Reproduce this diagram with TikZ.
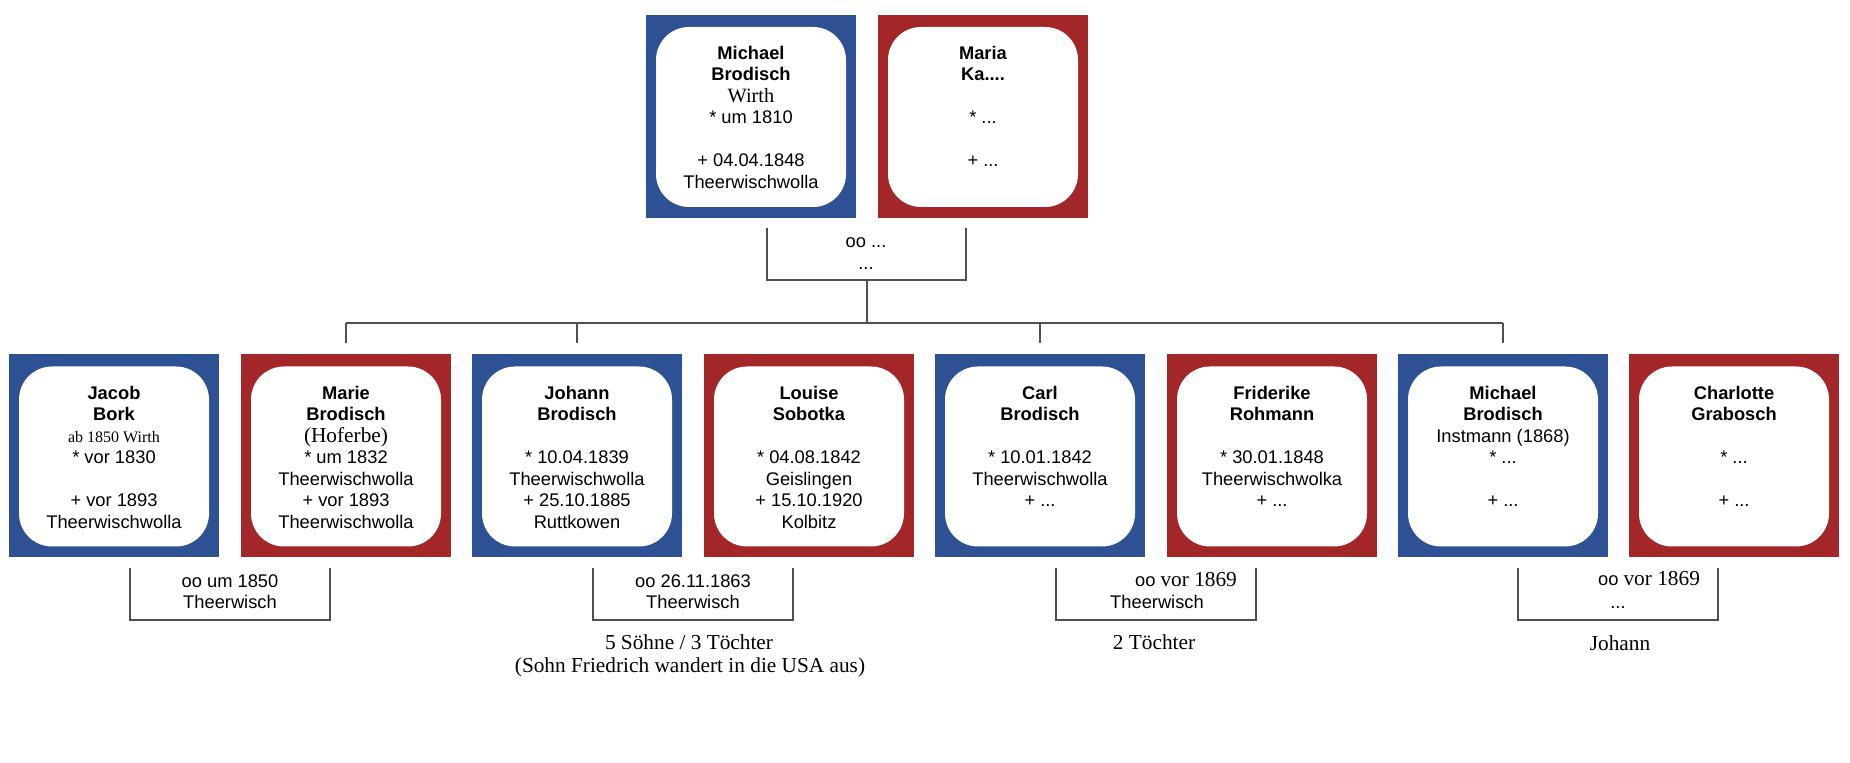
\documentclass[tikz,border=0pt]{standalone}
\usepackage{fontspec}
\setmainfont{Liberation Sans}
\newfontfamily\tms{Liberation Serif}
\definecolor{mblue}{HTML}{2D5193}
\definecolor{fred}{HTML}{A32628}
\definecolor{linegray}{HTML}{505050}
\begin{document}
\begin{tikzpicture}[x=0.5pt,y=-0.5pt,
  outerbox/.style={draw=none, minimum width=105pt, minimum height=101.5pt, inner sep=0pt},
  malebox/.style={outerbox, fill=mblue},
  femalebox/.style={outerbox, fill=fred},
  innerbox/.style={fill=white, draw=none, rounded corners=16.5pt, minimum width=95pt, minimum height=90pt, inner sep=0pt},
  ptext/.style={anchor=north, align=center, inner sep=0pt, font=\fontsize{9.15}{10.75}\selectfont},
  conn/.style={draw=linegray, line width=0.75pt},
  mtext/.style={anchor=base, inner sep=0pt, font=\fontsize{9.15}{10.75}\selectfont},
  stext/.style={anchor=base, inner sep=0pt, font=\tms\fontsize{10.65}{11.5}\selectfont}
]
\useasboundingbox (0,0) rectangle (1850,763);

% ---------- top couple ----------
\node[malebox] (t1) at (751,116.5) {};
\node[innerbox] (t1i) at (751,117) {};
\node[ptext] (t1t) at (751,44) {\strut\textbf{Michael}\\\textbf{Brodisch}\\{\tms\fontsize{10.15}{10.75}\selectfont Wirth}\hspace*{6pt}\\* um 1810\\\mbox{}\\+ 04.04.1848\\Theerwischwolla};
\node[femalebox] (t2) at (983,116.5) {};
\node[innerbox] (t2i) at (983,117) {};
\node[ptext] (t2t) at (983,44) {\strut\textbf{Maria}\\\textbf{Ka....}\\\mbox{}\\* ...\\\mbox{}\\+ ...};

% ---------- children row ----------
\node[malebox] (c1) at (114,456) {};
\node[innerbox] (c1i) at (114,456.5) {};
\node[ptext] (c1t) at (114,384) {\strut\textbf{Jacob}\\\textbf{Bork}\\{\tms\fontsize{8}{10.75}\selectfont ab 1850 Wirth}\\* vor 1830\\\mbox{}\\+ vor 1893\\Theerwischwolla};

\node[femalebox] (c2) at (346,456) {};
\node[innerbox] (c2i) at (346,456.5) {};
\node[ptext] (c2t) at (346,384) {\strut\textbf{Marie}\\\textbf{Brodisch}\\{\tms\fontsize{10.65}{10.75}\selectfont (Hoferbe)}\\* um 1832\\Theerwischwolla\\+ vor 1893\\Theerwischwolla};

\node[malebox] (c3) at (577,456) {};
\node[innerbox] (c3i) at (577,456.5) {};
\node[ptext] (c3t) at (577,384) {\strut\textbf{Johann}\\\textbf{Brodisch}\\\mbox{}\\* 10.04.1839\\Theerwischwolla\\+ 25.10.1885\\Ruttkowen};

\node[femalebox] (c4) at (809,456) {};
\node[innerbox] (c4i) at (809,456.5) {};
\node[ptext] (c4t) at (809,384) {\strut\textbf{Louise}\\\textbf{Sobotka}\\\mbox{}\\* 04.08.1842\\Geislingen\\+ 15.10.1920\\Kolbitz};

\node[malebox] (c5) at (1040,456) {};
\node[innerbox] (c5i) at (1040,456.5) {};
\node[ptext] (c5t) at (1040,384) {\strut\textbf{Carl}\\\textbf{Brodisch}\\\mbox{}\\* 10.01.1842\\Theerwischwolla\\+ ...};

\node[femalebox] (c6) at (1272,456) {};
\node[innerbox] (c6i) at (1272,456.5) {};
\node[ptext] (c6t) at (1272,384) {\strut\textbf{Friderike}\\\textbf{Rohmann}\\\mbox{}\\* 30.01.1848\\Theerwischwolka\\+ ...};

\node[malebox] (c7) at (1503,456) {};
\node[innerbox] (c7i) at (1503,456.5) {};
\node[ptext] (c7t) at (1503,384) {\strut\textbf{Michael}\\\textbf{Brodisch}\\Instmann (1868)\\* ...\\\mbox{}\\+ ...};

\node[femalebox] (c8) at (1734,456) {};
\node[innerbox] (c8i) at (1734,456.5) {};
\node[ptext] (c8t) at (1734,384) {\strut\textbf{Charlotte}\\\textbf{Grabosch}\\\mbox{}\\* ...\\\mbox{}\\+ ...};

% ---------- top marriage bracket ----------
\coordinate (m0a) at (767,228);
\coordinate (m0b) at (767,280);
\coordinate (m0c) at (966,280);
\coordinate (m0d) at (966,228);
\coordinate (m0s) at (867,280);
\coordinate (bar) at (867,323);
\draw[conn] (m0a) -- (m0b) -- (m0c) -- (m0d);
\draw[conn] (m0s) -- (bar);
\node[mtext] (m0t1) at (866,248) {oo ...};
\node[mtext] (m0t2) at (866,270) {...};

% ---------- sibling bar ----------
\coordinate (bar1) at (346,323);
\coordinate (bar2) at (577,323);
\coordinate (bar3) at (1040,323);
\coordinate (bar4) at (1503,323);
\coordinate (d1) at (346,343);
\coordinate (d2) at (577,343);
\coordinate (d3) at (1040,343);
\coordinate (d4) at (1503,343);
\draw[conn] (bar1) -- (bar4);
\draw[conn] (bar1) -- (d1);
\draw[conn] (bar2) -- (d2);
\draw[conn] (bar3) -- (d3);
\draw[conn] (bar4) -- (d4);

% ---------- children marriage brackets ----------
\coordinate (m1a) at (130,568); \coordinate (m1b) at (130,620);
\coordinate (m1c) at (330,620); \coordinate (m1d) at (330,568);
\draw[conn] (m1a) -- (m1b) -- (m1c) -- (m1d);
\node[mtext] (m1t1) at (230,588) {oo um 1850};
\node[mtext] (m1t2) at (230,609) {Theerwisch};

\coordinate (m2a) at (593,568); \coordinate (m2b) at (593,620);
\coordinate (m2c) at (793,620); \coordinate (m2d) at (793,568);
\draw[conn] (m2a) -- (m2b) -- (m2c) -- (m2d);
\node[mtext] (m2t1) at (693,588) {oo 26.11.1863};
\node[mtext] (m2t2) at (693,609) {Theerwisch};
\node[stext] (m2k1) at (689,649) {5 Söhne / 3 Töchter};
\node[stext] (m2k2) at (690,672) {(Sohn Friedrich wandert in die USA aus)};

\coordinate (m3a) at (1056,568); \coordinate (m3b) at (1056,620);
\coordinate (m3c) at (1256,620); \coordinate (m3d) at (1256,568);
\draw[conn] (m3a) -- (m3b) -- (m3c) -- (m3d);
\node[mtext] (m3t1) at (1186,587) {oo {\tms\fontsize{10.65}{11.5}\selectfont vor 1869}};
\node[mtext] (m3t2) at (1157,609) {Theerwisch};
\node[stext] (m3k1) at (1154,649) {2 Töchter};

\coordinate (m4a) at (1518,568); \coordinate (m4b) at (1518,620);
\coordinate (m4c) at (1718,620); \coordinate (m4d) at (1718,568);
\draw[conn] (m4a) -- (m4b) -- (m4c) -- (m4d);
\node[mtext] (m4t1) at (1649,586) {oo {\tms\fontsize{10.65}{11.5}\selectfont vor 1869}};
\node[mtext] (m4t2) at (1618,609) {...};
\node[stext] (m4k1) at (1620,650) {Johann};
\end{tikzpicture}
\end{document}
